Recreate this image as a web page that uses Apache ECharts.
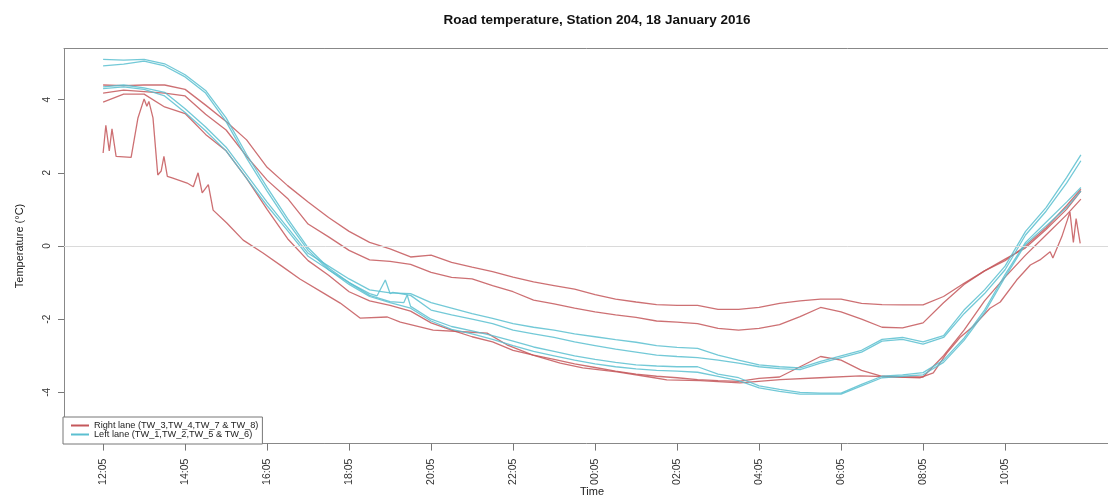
<!DOCTYPE html>
<html>
<head>
<meta charset="utf-8">
<script src="https://cdn.jsdelivr.net/npm/echarts@6/dist/echarts.min.js"></script>
<style>
  html, body { margin: 0; padding: 0; background: #fff; overflow: hidden; }
  #chart { width: 1108px; height: 498px; }
</style>
</head>
<body>
<div id="chart"></div>
<script>
// Sampling clock times (every 30 minutes, last reading at 11:56)
const halfHours = ["12:05","12:35","13:05","13:35","14:05","14:35","15:05","15:35","16:05","16:35",
  "17:05","17:35","18:05","18:35","19:05","19:35","20:05","20:35","21:05","21:35",
  "22:05","22:35","23:05","23:35","00:05","00:35","01:05","01:35","02:05","02:35",
  "03:05","03:35","04:05","04:35","05:05","05:35","06:05","06:35","07:05","07:35",
  "08:05","08:35","09:05","09:35","10:05","10:35","11:05","11:35","11:56"];

const tickLabels = ["12:05","14:05","16:05","18:05","20:05","22:05","00:05","02:05","04:05","06:05","08:05","10:05"];
const yTicks = [-4, -2, 0, 2, 4];

// Right lane sensors (°C)
const tw3 = [4.40,4.38,4.40,4.40,4.28,3.85,3.40,2.90,2.15,1.65,1.20,0.78,0.40,0.10,-0.08,-0.30,-0.25,-0.45,-0.58,-0.70,
  -0.85,-0.98,-1.08,-1.18,-1.33,-1.45,-1.53,-1.60,-1.62,-1.62,-1.73,-1.73,-1.68,-1.57,-1.50,-1.45,-1.45,-1.57,-1.60,-1.61,
  -1.61,-1.38,-1.02,-0.68,-0.36,-0.05,0.45,1.00,1.50];
const tw4 = [4.18,4.26,4.22,4.18,4.10,3.60,3.17,2.45,1.80,1.30,0.60,0.25,-0.12,-0.38,-0.42,-0.50,-0.72,-0.86,-0.90,-1.08,
  -1.25,-1.48,-1.58,-1.70,-1.80,-1.88,-1.95,-2.05,-2.08,-2.12,-2.25,-2.30,-2.25,-2.15,-1.93,-1.68,-1.80,-2.00,-2.22,-2.24,
  -2.10,-1.55,-1.05,-0.68,-0.40,0.00,0.50,1.10,1.55];
const tw7 = [3.93,4.15,4.15,3.80,3.62,3.05,2.60,1.85,1.00,0.20,-0.40,-0.80,-1.25,-1.50,-1.62,-1.78,-2.10,-2.30,-2.48,-2.62,
  -2.85,-2.98,-3.10,-3.22,-3.32,-3.42,-3.50,-3.56,-3.60,-3.65,-3.68,-3.70,-3.62,-3.58,-3.30,-3.02,-3.12,-3.40,-3.56,-3.58,
  -3.58,-3.00,-2.30,-1.50,-0.85,-0.25,0.30,0.85,1.28];
// TW_8 logs irregularly, with its own clock times
const tw8Times = ["12:05","12:09","12:14","12:18","12:24","12:46","12:56","13:05","13:09","13:12","13:18","13:25","13:30",
  "13:34","13:39","13:46","14:08","14:17","14:24","14:30","14:39","14:46","15:06","15:30","15:59","16:28","16:53",
  "17:27","17:52","18:21","19:01","19:20","20:08","20:58","21:27","21:56","22:34","23:14","23:47","00:37","01:25",
  "01:50","02:39","03:37","04:36","05:34","06:33","08:01","08:20","08:40","08:59","09:18","09:43","09:58","10:22",
  "10:42","10:56","11:11","11:15","11:28","11:36","11:40","11:45","11:49","11:55"];
const tw8 = [2.54,3.30,2.60,3.20,2.45,2.42,3.50,4.02,3.82,3.95,3.50,1.94,2.05,
  2.45,1.90,1.86,1.72,1.62,2.00,1.45,1.68,0.98,0.63,0.16,-0.19,-0.57,-0.90,
  -1.28,-1.56,-1.97,-1.94,-2.08,-2.30,-2.35,-2.38,-2.70,-2.98,-3.20,-3.33,-3.44,-3.58,
  -3.66,-3.68,-3.74,-3.65,-3.60,-3.55,-3.60,-3.47,-2.92,-2.50,-2.20,-1.70,-1.53,-0.93,
  -0.52,-0.38,-0.16,-0.33,0.25,0.70,0.93,0.10,0.75,0.07];

// Left lane sensors (°C)
const tw1 = [5.10,5.08,5.10,4.98,4.68,4.25,3.50,2.50,1.60,0.75,-0.05,-0.60,-1.00,-1.35,-1.52,-1.65,-2.00,-2.20,-2.32,-2.45,
  -2.60,-2.76,-2.88,-3.00,-3.10,-3.18,-3.25,-3.28,-3.30,-3.30,-3.50,-3.60,-3.82,-3.92,-4.00,-4.02,-4.02,-3.78,-3.56,-3.52,
  -3.46,-3.12,-2.52,-1.75,-0.78,0.10,0.65,1.20,1.60];
const tw1ExtraTimes = ["19:25","19:30"];
const tw1Extra = [-1.55,-1.34];
const tw2 = [4.92,4.97,5.05,4.92,4.62,4.18,3.40,2.40,1.50,0.65,-0.12,-0.65,-1.05,-1.38,-1.55,-1.70,-2.05,-2.28,-2.40,-2.55,
  -2.72,-2.88,-3.00,-3.12,-3.22,-3.30,-3.36,-3.40,-3.42,-3.45,-3.56,-3.68,-3.88,-3.97,-4.05,-4.05,-4.05,-3.82,-3.60,-3.56,
  -3.52,-3.18,-2.58,-1.82,-0.85,0.05,0.55,1.05,1.50];
const tw5 = [4.35,4.40,4.32,4.20,3.75,3.25,2.70,1.95,1.20,0.50,-0.20,-0.55,-0.90,-1.20,-1.28,-1.30,-1.55,-1.70,-1.85,-1.98,
  -2.12,-2.22,-2.30,-2.40,-2.48,-2.56,-2.63,-2.72,-2.77,-2.80,-2.98,-3.12,-3.25,-3.30,-3.33,-3.15,-3.00,-2.85,-2.55,-2.50,
  -2.62,-2.45,-1.75,-1.20,-0.55,0.40,1.05,1.87,2.49];
const tw6 = [4.30,4.35,4.28,4.10,3.65,3.15,2.60,1.85,1.10,0.42,-0.28,-0.65,-1.00,-1.30,-1.30,-1.35,-1.75,-1.88,-2.00,-2.12,
  -2.30,-2.40,-2.50,-2.62,-2.72,-2.82,-2.90,-2.98,-3.02,-3.05,-3.12,-3.20,-3.30,-3.35,-3.38,-3.20,-3.05,-2.90,-2.60,-2.55,
  -2.68,-2.50,-1.85,-1.30,-0.65,0.30,0.95,1.72,2.33];
const tw6ExtraTimes = ["18:46","18:58","19:09"];
const tw6Extra = [-1.36,-0.93,-1.27];

const rightName = "Right lane (TW_3,TW_4,TW_7 & TW_8)";
const leftName = "Left lane (TW_1,TW_2,TW_5 & TW_6)";
const red = "#c4575b";
const teal = "#5bbfd0";
const frame = "#888";
const font = "'Liberation Sans', Arial, Helvetica, sans-serif";

// hours elapsed since 12:05 on the 18th
function clockToHours(s) {
  const [h, m] = s.split(":").map(Number);
  let mins = h * 60 + m;
  if (h < 12) mins += 1440;
  return (mins - 725) / 60;
}
function pairs(times, temps) {
  return times.map((t, i) => [clockToHours(t), temps[i]]).sort((a, b) => a[0] - b[0]);
}
function lineSeries(name, color, data) {
  return {
    name, type: "line", data, symbol: "none", silent: true,
    color, lineStyle: { color, width: 1.3, opacity: 0.85 }
  };
}

const series = [
  lineSeries(rightName, red, pairs(halfHours, tw3)),
  lineSeries(rightName, red, pairs(halfHours, tw4)),
  lineSeries(rightName, red, pairs(halfHours, tw7)),
  lineSeries(rightName, red, pairs(tw8Times, tw8)),
  lineSeries(leftName, teal, pairs(halfHours.concat(tw1ExtraTimes), tw1.concat(tw1Extra))),
  lineSeries(leftName, teal, pairs(halfHours, tw2)),
  lineSeries(leftName, teal, pairs(halfHours, tw5)),
  lineSeries(leftName, teal, pairs(halfHours.concat(tw6ExtraTimes), tw6.concat(tw6Extra)))
];
// freezing line
series[0].markLine = {
  silent: true, symbol: "none", label: { show: false }, animation: false,
  lineStyle: { color: "#dadada", type: "solid", width: 1 },
  data: [{ yAxis: 0 }]
};

const tickHours = tickLabels.map(clockToHours);
const xRange = { min: -0.954, max: 24.804 };

const chart = echarts.init(document.getElementById("chart"), null, { renderer: "canvas" });
chart.setOption({
  animation: false,
  backgroundColor: "#fff",
  title: {
    text: "Road temperature, Station 204, 18 January 2016",
    left: 592, top: 8, textAlign: "center",
    textStyle: { fontFamily: font, fontSize: 13.5, fontWeight: "bold", color: "#111" }
  },
  grid: {
    left: 64, width: 1056, top: 48.4, height: 395.2,
    outerBoundsMode: "none", containLabel: false, show: false
  },
  legend: {
    left: 63, top: 417, orient: "vertical",
    icon: "rect", itemWidth: 18, itemHeight: 2, itemGap: 0,
    padding: [4, 4, 5, 8],
    borderColor: "#777", borderWidth: 1, borderRadius: 0, backgroundColor: "#fff",
    selectedMode: false,
    textStyle: { fontFamily: font, fontSize: 9.2, color: "#222", lineHeight: 8 },
    data: [
      { name: rightName, itemStyle: { color: red } },
      { name: leftName, itemStyle: { color: teal } }
    ]
  },
  xAxis: [{
    type: "value", min: xRange.min, max: xRange.max, position: "bottom",
    name: "Time", nameLocation: "middle", nameGap: 43, nameMoveOverlap: false,
    nameTextStyle: { fontFamily: font, fontSize: 11, color: "#222" },
    axisLine: { show: true, onZero: false, lineStyle: { color: frame, width: 1 } },
    splitLine: { show: false },
    axisTick: { show: true, length: 7, customValues: tickHours, lineStyle: { color: "#777" } },
    axisLabel: {
      customValues: tickHours, rotate: 90, margin: 15,
      fontFamily: font, fontSize: 10.5, color: "#333",
      formatter: v => tickLabels[tickHours.findIndex(h => Math.abs(h - v) < 1e-6)] || ""
    }
  }, {
    // top edge of the plot frame
    type: "value", min: xRange.min, max: xRange.max, position: "top",
    axisLine: { show: true, onZero: false, lineStyle: { color: frame, width: 1 } },
    axisTick: { show: false }, axisLabel: { show: false }, splitLine: { show: false }
  }],
  yAxis: {
    type: "value", min: -5.4, max: 5.4,
    name: "Temperature (°C)", nameLocation: "middle", nameGap: 39, nameRotate: 90, nameMoveOverlap: false,
    nameTextStyle: { fontFamily: font, fontSize: 11, color: "#222" },
    axisLine: { show: true, onZero: false, lineStyle: { color: frame, width: 1 } },
    splitLine: { show: false },
    axisTick: { show: true, length: 6, customValues: yTicks, lineStyle: { color: "#777" } },
    axisLabel: {
      customValues: yTicks, rotate: 90, margin: 12,
      fontFamily: font, fontSize: 10, color: "#333",
      formatter: v => String(v)
    }
  },
  series
});
</script>
</body>
</html>
